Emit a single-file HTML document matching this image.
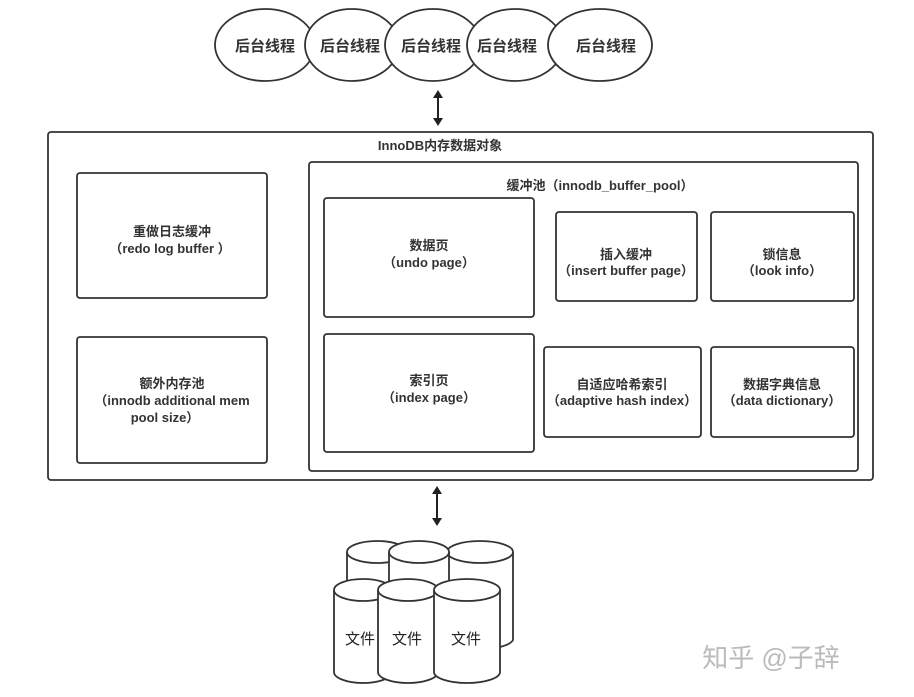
<!DOCTYPE html>
<html><head><meta charset="utf-8"><style>
html,body{margin:0;padding:0;background:#fff;}
svg{display:block;}
text{font-family:"Liberation Sans","Noto Sans CJK SC",sans-serif;font-weight:bold;fill:#333;font-size:13px;text-anchor:middle;}
</style></head><body>
<svg width="914" height="697" viewBox="0 0 914 697" xmlns="http://www.w3.org/2000/svg">
<defs>
<marker id="ah" markerWidth="8" markerHeight="10" refX="6" refY="5" orient="auto-start-reverse" markerUnits="userSpaceOnUse"><path d="M0,0 L8,5 L0,10 z" fill="#222"/></marker>
</defs>
<g stroke="#333" stroke-width="1.8" fill="#fff">
<ellipse cx="265" cy="45" rx="50" ry="36"/>
<ellipse cx="352" cy="45" rx="47" ry="36"/>
<ellipse cx="433" cy="45" rx="48" ry="36"/>
<ellipse cx="515" cy="45" rx="48" ry="36"/>
<ellipse cx="600" cy="45" rx="52" ry="36"/>
</g>
<text x="265" y="51" style="font-size:15px">后台线程</text>
<text x="350" y="51" style="font-size:15px">后台线程</text>
<text x="431" y="51" style="font-size:15px">后台线程</text>
<text x="507" y="51" style="font-size:15px">后台线程</text>
<text x="606" y="51" style="font-size:15px">后台线程</text>
<line x1="438" y1="92" x2="438" y2="124" stroke="#222" stroke-width="2" marker-start="url(#ah)" marker-end="url(#ah)"/>
<g stroke="#333" stroke-width="1.8" fill="none">
<rect x="48" y="132" width="825" height="348" rx="3"/>
<rect x="309" y="162" width="549" height="309" rx="3"/>
<rect x="77" y="173" width="190" height="125" rx="3"/>
<rect x="77" y="337" width="190" height="126" rx="3"/>
<rect x="324" y="198" width="210" height="119" rx="3"/>
<rect x="324" y="334" width="210" height="118" rx="3"/>
<rect x="556" y="212" width="141" height="89" rx="3"/>
<rect x="711" y="212" width="143" height="89" rx="3"/>
<rect x="544" y="347" width="157" height="90" rx="3"/>
<rect x="711" y="347" width="143" height="90" rx="3"/>
</g>
<text x="440" y="150">InnoDB内存数据对象</text>
<text x="600" y="190">缓冲池（innodb_buffer_pool）</text>
<text x="172" y="236">重做日志缓冲</text>
<text x="170" y="253">（redo log buffer ）</text>
<text x="172" y="388">额外内存池</text>
<text x="172" y="405">（innodb additional mem</text>
<text x="165" y="422">pool size）</text>
<text x="429" y="250">数据页</text>
<text x="429" y="267">（undo page）</text>
<text x="429" y="385">索引页</text>
<text x="429" y="402">（index page）</text>
<text x="626" y="259">插入缓冲</text>
<text x="626" y="275">（insert buffer page）</text>
<text x="782" y="259">锁信息</text>
<text x="782" y="275">（look info）</text>
<text x="622" y="389">自适应哈希索引</text>
<text x="622" y="405">（adaptive hash index）</text>
<text x="782" y="389">数据字典信息</text>
<text x="782" y="405">（data dictionary）</text>
<line x1="437" y1="488" x2="437" y2="524" stroke="#222" stroke-width="2" marker-start="url(#ah)" marker-end="url(#ah)"/>
<g stroke="#333" stroke-width="1.8" fill="#fff">
<path d="M347,552 L347,640 A30,11 0 0 0 407,640 L407,552"/><ellipse cx="377" cy="552" rx="30" ry="11"/>
<path d="M448,552 L448,640 A33,11 0 0 0 513,640 L513,552"/><ellipse cx="480" cy="552" rx="33" ry="11"/>
<path d="M389,552 L389,640 A30,11 0 0 0 449,640 L449,552"/><ellipse cx="419" cy="552" rx="30" ry="11"/>
<path d="M334,590 L334,672 A29,11 0 0 0 392,672 L392,590"/><ellipse cx="363" cy="590" rx="29" ry="11"/>
<path d="M378,590 L378,672 A30,11 0 0 0 438,672 L438,590"/><ellipse cx="408" cy="590" rx="30" ry="11"/>
<path d="M434,590 L434,672 A33,11 0 0 0 500,672 L500,590"/><ellipse cx="467" cy="590" rx="33" ry="11"/>
</g>
<text x="360" y="644" style="font-weight:normal;font-size:15px;fill:#222">文件</text>
<text x="407" y="644" style="font-weight:normal;font-size:15px;fill:#222">文件</text>
<text x="466" y="644" style="font-weight:normal;font-size:15px;fill:#222">文件</text>
<text x="771" y="667" style="font-weight:normal;font-size:26px;fill:#bbb">知乎 @子辞</text>
</svg>
</body></html>
